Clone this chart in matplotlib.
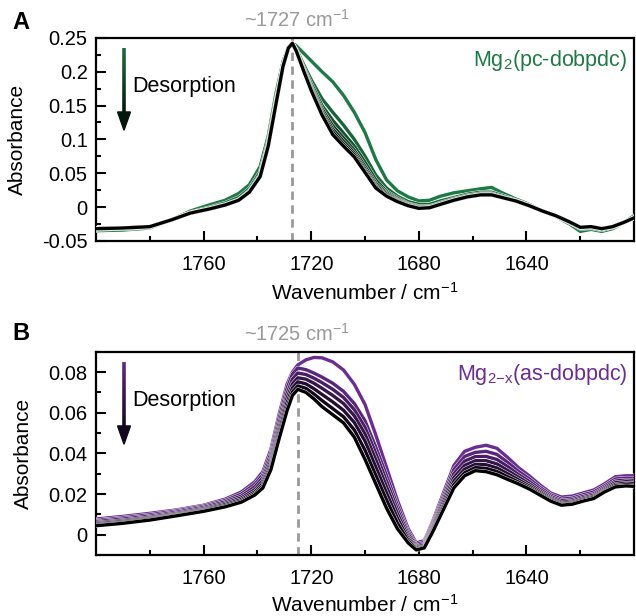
import matplotlib
matplotlib.use("Agg")
import matplotlib.pyplot as plt
import matplotlib.patheffects as pe
from matplotlib.colors import LinearSegmentedColormap
from matplotlib.collections import LineCollection
from matplotlib.patches import Polygon
from matplotlib.ticker import MultipleLocator, FixedLocator, FuncFormatter
from matplotlib.transforms import blended_transform_factory
import numpy as np

plt.rcParams["font.family"] = ["Liberation Sans", "DejaVu Sans"]
plt.rcParams["mathtext.fontset"] = "custom"
plt.rcParams["mathtext.rm"] = "Liberation Sans"
plt.rcParams["mathtext.it"] = "Liberation Sans:italic"
plt.rcParams["axes.unicode_minus"] = False

# ---- panel A: Mg2(pc-dobpdc), spectra during desorption (first -> last)
WN_A = [1800, 1790, 1780, 1772, 1765, 1758, 1752, 1747, 1743, 1739, 1736, 1733, 1730.5, 1728.5,
        1727, 1725.5, 1723, 1720, 1716, 1712, 1708, 1704, 1700, 1696, 1692, 1688, 1684, 1680,
        1676, 1672, 1667, 1662, 1657, 1653, 1649, 1644, 1639, 1634, 1629, 1624, 1620, 1616,
        1612, 1608, 1604, 1600]
PC_1 = [-0.035, -0.034, -0.031, -0.019, -0.006, 0.003, 0.010, 0.020, 0.033, 0.060, 0.105, 0.170,
        0.215, 0.237, 0.243, 0.238, 0.228, 0.216, 0.200, 0.185, 0.165, 0.140, 0.110, 0.070, 0.040,
        0.024, 0.015, 0.009, 0.010, 0.016, 0.021, 0.024, 0.027, 0.029, 0.021, 0.012, 0.004, -0.006,
        -0.014, -0.025, -0.036, -0.033, -0.036, -0.032, -0.023, -0.013]
PC_2 = [-0.033, -0.032, -0.030, -0.019, -0.008, -0.001, 0.006, 0.014, 0.027, 0.052, 0.098, 0.162,
        0.211, 0.236, 0.242, 0.233, 0.212, 0.188, 0.160, 0.140, 0.121, 0.100, 0.075, 0.047, 0.028,
        0.016, 0.008, 0.004, 0.004, 0.009, 0.014, 0.019, 0.022, 0.022, 0.017, 0.010, 0.003, -0.006,
        -0.013, -0.023, -0.032, -0.031, -0.034, -0.030, -0.023, -0.015]
PC_3 = [-0.033, -0.032, -0.030, -0.019, -0.009, -0.002, 0.004, 0.011, 0.024, 0.048, 0.094, 0.158,
        0.209, 0.235, 0.242, 0.231, 0.208, 0.182, 0.150, 0.128, 0.109, 0.090, 0.066, 0.040, 0.023,
        0.013, 0.005, 0.001, 0.001, 0.006, 0.012, 0.017, 0.020, 0.020, 0.015, 0.010, 0.002, -0.006,
        -0.013, -0.023, -0.031, -0.030, -0.033, -0.030, -0.023, -0.016]
PC_4 = [-0.032, -0.031, -0.029, -0.019, -0.009, -0.003, 0.003, 0.010, 0.023, 0.046, 0.092, 0.156,
        0.208, 0.235, 0.242, 0.230, 0.206, 0.178, 0.145, 0.120, 0.102, 0.084, 0.060, 0.035, 0.021,
        0.011, 0.004, 0.000, 0.000, 0.005, 0.011, 0.016, 0.019, 0.019, 0.015, 0.009, 0.002, -0.006,
        -0.013, -0.022, -0.030, -0.030, -0.032, -0.029, -0.023, -0.016]
PC_5 = [-0.032, -0.031, -0.029, -0.019, -0.009, -0.003, 0.003, 0.010, 0.022, 0.045, 0.091, 0.155,
        0.208, 0.235, 0.242, 0.230, 0.205, 0.176, 0.141, 0.115, 0.097, 0.080, 0.056, 0.032, 0.019,
        0.010, 0.003, -0.001, -0.001, 0.004, 0.010, 0.015, 0.018, 0.018, 0.014, 0.009, 0.002, -0.006,
        -0.013, -0.022, -0.030, -0.029, -0.032, -0.029, -0.023, -0.016]
PC_6 = [-0.032, -0.031, -0.029, -0.019, -0.009, -0.003, 0.003, 0.010, 0.022, 0.045, 0.090, 0.155,
        0.208, 0.235, 0.242, 0.230, 0.204, 0.174, 0.138, 0.111, 0.093, 0.077, 0.053, 0.030, 0.017,
        0.009, 0.002, -0.002, -0.001, 0.004, 0.010, 0.015, 0.018, 0.018, 0.014, 0.009, 0.002, -0.006,
        -0.013, -0.022, -0.030, -0.029, -0.032, -0.029, -0.023, -0.016]
PC_7 = [-0.032, -0.031, -0.029, -0.019, -0.009, -0.003, 0.003, 0.010, 0.022, 0.045, 0.090, 0.155,
        0.208, 0.235, 0.242, 0.230, 0.203, 0.172, 0.136, 0.107, 0.090, 0.074, 0.051, 0.028, 0.016,
        0.008, 0.002, -0.002, -0.001, 0.004, 0.010, 0.015, 0.018, 0.018, 0.014, 0.009, 0.002, -0.006,
        -0.013, -0.022, -0.030, -0.029, -0.032, -0.029, -0.023, -0.016]

# ---- panel B: Mg2-x(as-dobpdc)
WN_B = [1800, 1790, 1780, 1770, 1760, 1752, 1746, 1741, 1738, 1735, 1732, 1729, 1727, 1725, 1722,
        1719, 1716, 1712, 1708, 1704, 1700, 1696, 1692, 1688, 1684, 1681, 1678, 1675, 1671, 1667,
        1663, 1659, 1655, 1651, 1647, 1643, 1639, 1635, 1631, 1627, 1623, 1619, 1615, 1611, 1607,
        1603, 1600]
AS_1 = [0.0077, 0.0090, 0.0105, 0.0122, 0.0145, 0.0175, 0.0210, 0.0260, 0.0310, 0.0420, 0.0590,
        0.0740, 0.0800, 0.0835, 0.0860, 0.0872, 0.0870, 0.0850, 0.0810, 0.0740, 0.0640, 0.0490,
        0.0330, 0.0170, 0.0030, -0.0040, -0.0030, 0.0060, 0.0200, 0.0340, 0.0410, 0.0430, 0.0440,
        0.0425, 0.0380, 0.0330, 0.0290, 0.0245, 0.0205, 0.0185, 0.0190, 0.0205, 0.0220, 0.0250,
        0.0285, 0.0290, 0.0290]
AS_2 = [0.0070, 0.0083, 0.0098, 0.0117, 0.0140, 0.0168, 0.0200, 0.0248, 0.0295, 0.0400, 0.0570,
        0.0720, 0.0790, 0.0820, 0.0812, 0.0795, 0.0775, 0.0745, 0.0705, 0.0645, 0.0560, 0.0430,
        0.0290, 0.0145, 0.0015, -0.0048, -0.0038, 0.0050, 0.0185, 0.0320, 0.0385, 0.0405, 0.0410,
        0.0395, 0.0356, 0.0312, 0.0275, 0.0233, 0.0196, 0.0175, 0.0180, 0.0196, 0.0210, 0.0240,
        0.0274, 0.0279, 0.0278]
AS_3 = [0.0064, 0.0077, 0.0091, 0.0111, 0.0134, 0.0161, 0.0190, 0.0235, 0.0280, 0.0380, 0.0545,
        0.0695, 0.0765, 0.0795, 0.0788, 0.0770, 0.0748, 0.0715, 0.0675, 0.0615, 0.0528, 0.0400,
        0.0263, 0.0125, 0.0003, -0.0055, -0.0045, 0.0040, 0.0170, 0.0300, 0.0362, 0.0384, 0.0385,
        0.0370, 0.0335, 0.0296, 0.0262, 0.0223, 0.0188, 0.0167, 0.0172, 0.0188, 0.0201, 0.0232,
        0.0264, 0.0269, 0.0268]
AS_4 = [0.0058, 0.0070, 0.0085, 0.0105, 0.0128, 0.0154, 0.0181, 0.0222, 0.0265, 0.0362, 0.0522,
        0.0672, 0.0742, 0.0772, 0.0765, 0.0745, 0.0720, 0.0685, 0.0645, 0.0585, 0.0495, 0.0368,
        0.0235, 0.0105, -0.0010, -0.0061, -0.0051, 0.0032, 0.0157, 0.0281, 0.0341, 0.0364, 0.0364,
        0.0348, 0.0316, 0.0283, 0.0250, 0.0214, 0.0181, 0.0160, 0.0165, 0.0181, 0.0194, 0.0225,
        0.0256, 0.0261, 0.0259]
AS_5 = [0.0053, 0.0065, 0.0080, 0.0100, 0.0123, 0.0148, 0.0173, 0.0211, 0.0252, 0.0346, 0.0503,
        0.0650, 0.0722, 0.0752, 0.0742, 0.0718, 0.0690, 0.0653, 0.0612, 0.0552, 0.0460, 0.0332,
        0.0205, 0.0082, -0.0020, -0.0066, -0.0057, 0.0024, 0.0143, 0.0263, 0.0322, 0.0346, 0.0344,
        0.0328, 0.0300, 0.0270, 0.0240, 0.0207, 0.0175, 0.0154, 0.0159, 0.0175, 0.0188, 0.0219,
        0.0248, 0.0253, 0.0251]
AS_6 = [0.0048, 0.0060, 0.0076, 0.0096, 0.0119, 0.0142, 0.0166, 0.0202, 0.0240, 0.0332, 0.0485,
        0.0628, 0.0702, 0.0732, 0.0720, 0.0692, 0.0660, 0.0620, 0.0580, 0.0515, 0.0415, 0.0292,
        0.0170, 0.0058, -0.0030, -0.0071, -0.0061, 0.0017, 0.0131, 0.0246, 0.0305, 0.0330, 0.0326,
        0.0311, 0.0285, 0.0259, 0.0232, 0.0200, 0.0170, 0.0149, 0.0154, 0.0170, 0.0183, 0.0214,
        0.0241, 0.0246, 0.0244]
AS_7 = [0.0044, 0.0056, 0.0072, 0.0093, 0.0115, 0.0137, 0.0160, 0.0195, 0.0230, 0.0320, 0.0470,
        0.0610, 0.0685, 0.0715, 0.0700, 0.0668, 0.0630, 0.0590, 0.0550, 0.0480, 0.0370, 0.0250,
        0.0130, 0.0030, -0.0040, -0.0075, -0.0065, 0.0010, 0.0120, 0.0230, 0.0290, 0.0315, 0.0310,
        0.0295, 0.0272, 0.0250, 0.0225, 0.0195, 0.0165, 0.0145, 0.0150, 0.0165, 0.0178, 0.0210,
        0.0235, 0.0240, 0.0238]

PEAK_A, PEAK_B = 1727, 1725
X_MAJOR = [1760, 1720, 1680, 1640]
X_MINOR = [1780, 1740, 1700, 1660, 1620]
GREEN, PURPLE = "#1e7a45", "#6a2d94"


def panel(ax, wn, spectra, color, peak, label, ylim, ymaj, ymin, ylab_x, xlab_y):
    cmap = LinearSegmentedColormap.from_list("c", [color, "#000000"])
    n = len(spectra)
    for i, y in enumerate(spectra):
        ax.plot(wn, y, color=cmap(i / (n - 1)), lw=2.4, solid_joinstyle="round",
                path_effects=[pe.Stroke(linewidth=3.0, foreground="white"), pe.Normal()],
                zorder=3 + i)
    ax.axvline(peak, color="#999999", lw=2, ls=(0, (3, 2)), zorder=2)
    ax.set_xlim(1800, 1600)
    ax.set_ylim(*ylim)
    ax.xaxis.set_major_locator(FixedLocator(X_MAJOR))
    ax.xaxis.set_minor_locator(FixedLocator(X_MINOR))
    ax.yaxis.set_major_locator(MultipleLocator(ymaj))
    ax.yaxis.set_minor_locator(MultipleLocator(ymin))
    ax.yaxis.set_major_formatter(FuncFormatter(lambda v, p: "%g" % round(v, 4)))
    ax.tick_params(which="both", direction="in", width=1.5, top=False, right=False,
                   labelsize=14.5)
    ax.tick_params(which="major", length=7.5)
    ax.tick_params(which="minor", length=3.5)
    ax.tick_params(axis="x", pad=10)
    ax.tick_params(axis="y", pad=6)
    for s in ax.spines.values():
        s.set_linewidth(1.6)
    ax.set_xlabel("Wavenumber / cm$^{-1}$", fontsize=15)
    ax.set_ylabel("Absorbance", fontsize=15)
    ax.xaxis.set_label_coords(0.5, xlab_y)
    ax.yaxis.set_label_coords(ylab_x, 0.5)
    ax.text(0.988, 0.89, label, transform=ax.transAxes, ha="right", va="center",
            color=color, fontsize=15.5)
    tr = blended_transform_factory(ax.transData, ax.transAxes)
    ax.text(1725.1, 1.09, "~%d cm$^{-1}$" % peak, transform=tr, ha="center", va="center",
            color="#999999", fontsize=14.5)
    # gradient "Desorption" arrow
    x0, y0, y1, yh = 0.052, 0.95, 0.545, 0.635
    ys = np.linspace(y0, yh, 30)
    segs = [[(x0, ys[k]), (x0, ys[k + 1])] for k in range(len(ys) - 1)]
    cols = [cmap(0.1 + 0.7 * k / (len(segs) - 1)) for k in range(len(segs))]
    ax.add_collection(LineCollection(segs, colors=cols, linewidths=2.6,
                                     transform=ax.transAxes, zorder=10))
    ax.add_patch(Polygon([(x0 - 0.012, yh), (x0 + 0.012, yh), (x0, y1)], closed=True,
                         transform=ax.transAxes, color=cmap(0.82), zorder=10))
    ax.text(0.068, 0.76, "Desorption", transform=ax.transAxes, ha="left", va="center",
            fontsize=15.5)


fig = plt.figure(figsize=(6.36, 6.16), dpi=100)
axA = fig.add_axes([0.151, 0.609, 0.846, 0.3295])
axB = fig.add_axes([0.151, 0.099, 0.846, 0.330])

panel(axA, WN_A, [PC_1, PC_2, PC_3, PC_4, PC_5, PC_6, PC_7], GREEN, PEAK_A,
      "Mg$_2$(pc-dobpdc)", (-0.05, 0.25), 0.05, 0.025, -0.128, -0.20)
panel(axB, WN_B, [AS_1, AS_2, AS_3, AS_4, AS_5, AS_6, AS_7], PURPLE, PEAK_B,
      "Mg$_{\\mathrm{2{-}x}}$(as-dobpdc)", (-0.01, 0.09), 0.02, 0.01, -0.117, -0.19)

fig.text(0.033, 0.964, "A", fontsize=17, weight="bold", ha="center", va="center")
fig.text(0.033, 0.459, "B", fontsize=17, weight="bold", ha="center", va="center")

fig.savefig("out.png", dpi=100)
